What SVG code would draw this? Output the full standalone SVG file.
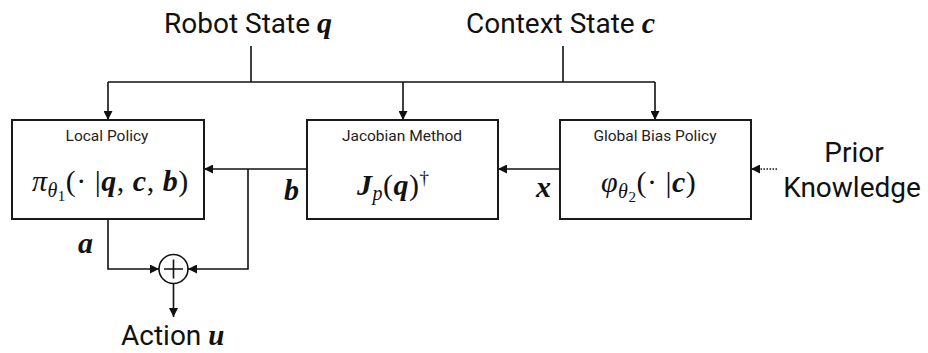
<svg xmlns="http://www.w3.org/2000/svg" width="928" height="353" viewBox="0 0 928 353">
  <style>
    .box { fill: #ffffff; stroke: #1a1a1a; stroke-width: 2; }
    .ln { fill: none; stroke: #111111; stroke-width: 1.6; }
    .dot { stroke-dasharray: 1.5 1.5; stroke-width: 1.4; }
    .lbl { font-family: Roboto, "Liberation Sans", sans-serif; font-size: 28px; fill: #111111; }
    .cap { font-family: Roboto, "Liberation Sans", sans-serif; font-size: 15.5px; fill: #222222; text-anchor: middle; }
    .m { font-family: "Liberation Serif", "DejaVu Serif", serif; font-size: 30px; fill: #111111; letter-spacing: 0.5px; }
    .bi { font-family: "Liberation Serif", "DejaVu Serif", serif; font-weight: bold; font-style: italic; }
    .it { font-style: italic; }
  </style>
  <defs>
    <marker id="ah" viewBox="0 0 10 10" refX="10" refY="5" markerWidth="9" markerHeight="9" markerUnits="userSpaceOnUse" orient="auto">
      <path d="M0,0 L10,5 L0,10 z" fill="#111111"/>
    </marker>
  </defs>

  <rect width="928" height="353" fill="#ffffff"/>

  <!-- inputs -->
  <text class="lbl" x="164" y="33">Robot State <tspan class="bi" font-size="30">q</tspan></text>
  <text class="lbl" x="466" y="33">Context State <tspan class="bi" font-size="30">c</tspan></text>
  <text class="lbl" x="854" y="162" text-anchor="middle">Prior</text>
  <text class="lbl" x="852" y="197" text-anchor="middle">Knowledge</text>

  <!-- connectors -->
  <g id="connectors">
    <path class="ln" d="M251,46 V82"/>
    <path class="ln" d="M563,46 V82"/>
    <path class="ln" d="M108,82 H655"/>
    <path class="ln" d="M108,82 V120" marker-end="url(#ah)"/>
    <path class="ln" d="M403,82 V120" marker-end="url(#ah)"/>
    <path class="ln" d="M655,82 V120" marker-end="url(#ah)"/>
    <path class="ln" d="M560,169 H498" marker-end="url(#ah)"/>
    <path class="ln" d="M307,169 H204" marker-end="url(#ah)"/>
    <path class="ln dot" d="M777,169 H751" marker-end="url(#ah)"/>
    <path class="ln" d="M248,169 V269 H188" marker-end="url(#ah)"/>
    <path class="ln" d="M108,219 V269 H159" marker-end="url(#ah)"/>
    <path class="ln" d="M173.5,283.5 V317" marker-end="url(#ah)"/>
  </g>

  <!-- signal labels -->
  <text class="m" x="78" y="253"><tspan class="bi">a</tspan></text>
  <text class="m" x="284" y="200"><tspan class="bi">b</tspan></text>
  <text class="m" x="536" y="197"><tspan class="bi">x</tspan></text>

  <g id="local-policy">
    <rect class="box" x="12" y="120" width="192" height="99"/>
    <text class="cap" x="107" y="141">Local Policy</text>
    <text class="m" x="32" y="191"><tspan class="it">π</tspan><tspan class="it" font-size="20" dy="6">θ</tspan><tspan font-size="15" dy="4">1</tspan><tspan dy="-10">(· |</tspan><tspan class="bi">q</tspan>, <tspan class="bi">c</tspan>, <tspan class="bi">b</tspan>)</text>
  </g>

  <g id="jacobian-method">
    <rect class="box" x="307" y="120" width="191" height="99"/>
    <text class="cap" x="402" y="141">Jacobian Method</text>
    <text class="m" x="357" y="195"><tspan class="bi">J</tspan><tspan class="it" font-size="20" dy="5">p</tspan><tspan dy="-5">(</tspan><tspan class="bi">q</tspan>)<tspan font-size="19" dy="-11">†</tspan></text>
  </g>

  <g id="global-bias-policy">
    <rect class="box" x="560" y="120" width="191" height="99"/>
    <text class="cap" x="655" y="141">Global Bias Policy</text>
    <text class="m" x="601" y="192"><tspan class="it">φ</tspan><tspan class="it" font-size="20" dy="6">θ</tspan><tspan font-size="15" dy="4">2</tspan><tspan dy="-10">(· |</tspan><tspan class="bi">c</tspan>)</text>
  </g>

  <g id="sum">
    <circle cx="173.5" cy="269" r="14.5" fill="#ffffff" stroke="#111111" stroke-width="1.6"/>
    <path class="ln" d="M164,269 H183 M173.5,259.5 V278.5"/>
  </g>

  <text class="lbl" x="121" y="345">Action <tspan class="bi" font-size="29">u</tspan></text>
</svg>
